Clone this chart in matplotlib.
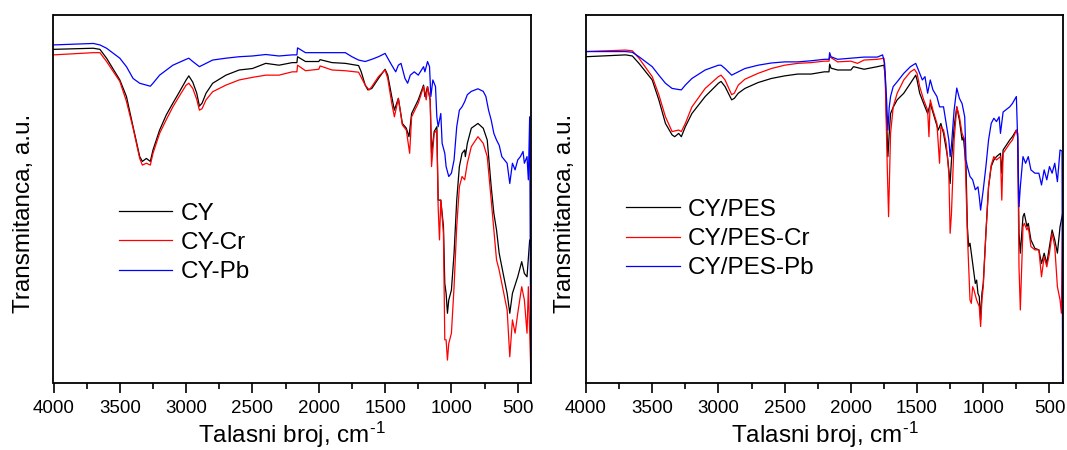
import matplotlib
matplotlib.use("Agg")
import matplotlib.pyplot as plt
from matplotlib.ticker import MultipleLocator, NullLocator

plt.rcParams['font.family'] = ['Liberation Sans', 'DejaVu Sans']
plt.rcParams['mathtext.fontset'] = 'custom'
plt.rcParams['mathtext.rm'] = 'Liberation Sans'
plt.rcParams['mathtext.it'] = 'Liberation Sans:italic'

# ---------------- Left panel: CY, CY-Cr, CY-Pb ----------------
cy_wn = [4000, 3700, 3650, 3600, 3500, 3450, 3400, 3350, 3330, 3300, 3270, 3250, 3200, 3150, 3100, 3050,
         3000, 2980, 2950, 2920, 2900, 2880, 2850, 2800, 2700, 2600, 2500, 2400, 2300, 2200, 2165, 2160,
         2100, 2000, 1990, 1900, 1800, 1700, 1680, 1650, 1630, 1600, 1550, 1500, 1480, 1450, 1430, 1400,
         1370, 1340, 1320, 1300, 1250, 1210, 1200, 1180, 1160, 1150, 1130, 1110, 1100, 1080, 1060, 1050,
         1040, 1030, 1020, 1000, 980, 960, 940, 920, 900, 895, 880, 850, 800, 760, 730, 700, 680, 660,
         640, 610, 580, 560, 540, 500, 470, 450, 430, 410, 401]
cy_t = [90.6, 90.9, 90.6, 88.2, 82.3, 77.8, 69.6, 61.5, 60.2, 61.0, 60.2, 63.3, 68.7, 72.8, 76.0, 79.1,
        82.3, 83.4, 81.7, 78.7, 75.2, 76.0, 78.7, 81.4, 83.6, 85.0, 85.4, 86.8, 86.3, 87.0, 87.0, 88.6,
        87.3, 87.3, 87.8, 87.0, 86.8, 86.2, 84.5, 80.9, 79.6, 80.0, 82.7, 85.2, 83.6, 77.8, 74.1, 77.3,
        70.5, 69.2, 66.9, 73.2, 76.9, 80.9, 77.8, 80.5, 76.9, 62.4, 68.3, 69.6, 49.7, 49.7, 42.5, 27.1,
        24.4, 19.0, 22.6, 25.3, 35.3, 49.7, 58.8, 62.4, 63.3, 61.5, 65.1, 69.2, 70.5, 69.2, 66.0, 53.3, 46.1, 41.6,
        35.3, 29.8, 24.4, 19.0, 24.4, 28.9, 33.0, 29.8, 28.9, 38.9, 38.0]

cycr_wn = [4000, 3700, 3650, 3600, 3500, 3450, 3400, 3350, 3330, 3300, 3270, 3250, 3200, 3150, 3100, 3050,
           3000, 2980, 2950, 2920, 2900, 2880, 2850, 2800, 2700, 2600, 2500, 2400, 2300, 2200, 2165, 2160,
           2100, 2000, 1990, 1900, 1800, 1700, 1680, 1650, 1620, 1600, 1550, 1500, 1480, 1450, 1430, 1400,
           1370, 1340, 1315, 1300, 1250, 1210, 1190, 1180, 1160, 1150, 1130, 1110, 1100, 1090, 1080, 1060,
           1050, 1040, 1030, 1020, 1000, 980, 960, 940, 920, 900, 880, 850, 800, 760, 730, 700, 680, 660,
           640, 610, 580, 560, 540, 520, 500, 470, 450, 430, 420, 401]
cycr_t = [89.1, 89.7, 89.7, 87.3, 81.9, 76.5, 69.2, 61.0, 59.2, 59.7, 59.2, 62.4, 67.8, 71.5, 75.0, 78.0,
          80.9, 81.4, 80.0, 77.0, 74.1, 74.5, 76.9, 79.1, 80.9, 82.3, 83.0, 83.6, 83.6, 84.5, 84.5, 86.3,
          84.8, 85.2, 86.1, 85.0, 84.8, 84.4, 83.0, 80.9, 79.6, 80.5, 83.2, 85.0, 82.7, 76.0, 72.3, 77.3,
          70.1, 68.7, 62.4, 72.3, 76.0, 80.5, 76.9, 80.5, 76.9, 58.8, 67.8, 68.7, 47.9, 38.9, 49.7, 40.7,
          11.8, 11.8, 6.3, 10.8, 13.6, 26.2, 42.5, 53.3, 56.1, 55.2, 59.7, 64.2, 66.9, 65.1, 61.5, 49.7, 41.6, 33.5,
          30.7, 25.3, 19.9, 7.2, 17.2, 13.6, 19.0, 26.2, 22.6, 13.6, 26.2, 2.7]

cypb_wn = [4000, 3700, 3650, 3600, 3500, 3450, 3400, 3350, 3300, 3270, 3250, 3200, 3100, 3000, 2980, 2950,
           2900, 2850, 2800, 2700, 2600, 2500, 2400, 2300, 2200, 2165, 2160, 2100, 2000, 1900, 1800, 1750,
           1700, 1650, 1600, 1550, 1500, 1480, 1450, 1420, 1400, 1380, 1350, 1330, 1310, 1280, 1250, 1210,
           1200, 1180, 1165, 1155, 1140, 1120, 1110, 1100, 1080, 1070, 1050, 1040, 1020, 1000, 980, 960,
           940, 920, 900, 880, 850, 800, 760, 740, 720, 700, 680, 660, 640, 620, 600, 580, 560, 540, 520,
           500, 480, 460, 450, 430, 420, 410, 401]
cypb_t = [91.8, 92.2, 91.8, 90.9, 88.2, 85.9, 82.7, 81.4, 80.9, 80.6, 81.4, 83.6, 86.3, 87.9, 88.2, 87.3,
          85.9, 86.8, 87.7, 88.2, 88.6, 88.8, 89.2, 88.8, 89.1, 89.1, 91.0, 89.7, 89.7, 89.7, 89.7, 88.6,
          87.7, 87.3, 87.9, 88.6, 89.5, 88.2, 86.3, 84.5, 86.3, 86.8, 82.7, 81.4, 83.6, 84.5, 83.6, 85.9,
          84.5, 87.3, 85.9, 77.8, 82.3, 80.5, 72.3, 69.6, 73.2, 65.1, 62.4, 58.8, 56.1, 57.0, 60.6, 69.6,
          74.1, 75.0, 76.4, 78.3, 79.2, 79.9, 79.2, 77.8, 74.1, 71.4, 67.8, 66.0, 64.6, 61.5, 60.6, 59.7, 54.2, 59.7, 57.9,
          60.6, 61.5, 62.9, 59.7, 61.5, 55.2, 72.3, 0.0]

# ---------------- Right panel: CY/PES, CY/PES-Cr, CY/PES-Pb ----------------
pes_wn = [4000, 3700, 3650, 3600, 3500, 3450, 3400, 3350, 3330, 3300, 3280, 3250, 3200, 3100, 3000, 2980,
          2950, 2900, 2880, 2850, 2800, 2700, 2600, 2500, 2400, 2300, 2200, 2165, 2160, 2150, 2100, 2000,
          1980, 1900, 1800, 1750, 1740, 1730, 1720, 1710, 1700, 1680, 1650, 1600, 1550, 1510, 1500, 1480,
          1450, 1420, 1400, 1370, 1340, 1320, 1300, 1270, 1250, 1240, 1220, 1200, 1180, 1160, 1150, 1130,
          1120, 1110, 1100, 1090, 1070, 1060, 1050, 1040, 1030, 1020, 1010, 1000, 980, 960, 940, 920, 900,
          870, 860, 850, 800, 780, 750, 740, 730, 720, 700, 690, 670, 660, 640, 610, 580, 560, 540, 520,
          500, 480, 460, 440, 420, 401]
pes_t = [88.6, 89.1, 88.8, 86.8, 82.3, 76.9, 70.5, 67.4, 66.9, 67.8, 66.9, 69.6, 73.2, 77.8, 81.4, 81.9,
         80.5, 76.9, 77.3, 78.7, 80.0, 81.6, 82.7, 83.4, 83.9, 83.9, 84.5, 84.5, 86.6, 85.5, 85.0, 85.0,
         85.9, 85.2, 85.9, 86.3, 83.2, 71.4, 61.5, 67.8, 73.2, 74.9, 76.9, 78.7, 81.4, 83.6, 82.3, 78.7,
         75.9, 73.2, 75.9, 72.3, 68.7, 70.5, 67.8, 61.5, 54.2, 60.6, 69.6, 75.0, 71.4, 66.0, 66.9, 58.8,
         42.5, 37.1, 38.0, 35.3, 29.8, 27.1, 28.0, 24.4, 23.5, 17.2, 24.4, 27.1, 40.7, 53.3, 58.8, 60.6, 61.5,
         62.4, 57.0, 63.3, 66.0, 66.9, 68.7, 67.8, 40.7, 35.3, 45.2, 46.1, 42.5, 43.4, 38.9, 36.6, 36.2, 32.5, 35.3, 32.5,
         37.1, 41.6, 38.9, 35.3, 42.5, 46.0]

pescr_wn = [4000, 3700, 3650, 3600, 3500, 3450, 3400, 3350, 3300, 3280, 3250, 3200, 3100, 3000, 2980, 2950,
            2900, 2880, 2850, 2800, 2700, 2600, 2500, 2400, 2300, 2200, 2165, 2160, 2100, 2000, 1950, 1900,
            1800, 1750, 1740, 1725, 1715, 1700, 1680, 1650, 1600, 1550, 1520, 1500, 1480, 1450, 1420, 1410,
            1400, 1380, 1350, 1330, 1320, 1300, 1280, 1260, 1250, 1240, 1220, 1200, 1180, 1160, 1140, 1130,
            1120, 1110, 1100, 1090, 1080, 1070, 1050, 1030, 1020, 1010, 1000, 980, 960, 940, 920, 900, 870,
            860, 850, 800, 780, 750, 740, 730, 720, 700, 690, 670, 660, 640, 610, 580, 560, 540, 520, 500,
            480, 460, 440, 420, 410, 401]
pescr_t = [90.0, 90.4, 90.2, 88.2, 83.2, 78.3, 72.3, 68.3, 68.7, 68.3, 70.5, 75.0, 80.0, 83.2, 83.6, 82.3,
           78.3, 78.7, 80.9, 82.5, 84.1, 85.4, 86.3, 86.8, 87.0, 87.4, 87.4, 88.6, 87.2, 87.4, 86.8, 87.7,
           87.9, 88.2, 82.3, 58.8, 45.2, 67.8, 75.0, 78.7, 82.3, 84.5, 85.2, 84.1, 80.5, 76.9, 74.1, 66.9,
           76.9, 74.1, 70.5, 59.7, 69.6, 68.7, 65.1, 57.0, 40.7, 46.1, 66.0, 75.0, 72.3, 67.8, 66.0, 53.3,
           40.7, 31.6, 22.6, 21.7, 26.2, 25.3, 22.6, 20.8, 15.4, 22.6, 26.2, 40.7, 53.3, 59.2, 61.5, 60.6, 61.5,
           49.7, 62.4, 65.1, 66.0, 68.7, 66.9, 31.6, 19.9, 42.5, 43.4, 41.6, 42.5, 37.1, 36.2, 36.2, 28.9, 34.4, 31.6, 35.3,
           40.7, 37.1, 26.2, 22.6, 19.0, 44.0]

pespb_wn = [4000, 3700, 3650, 3600, 3500, 3450, 3400, 3350, 3300, 3280, 3250, 3200, 3100, 3000, 2980, 2950,
            2900, 2850, 2800, 2700, 2600, 2500, 2400, 2300, 2200, 2165, 2160, 2150, 2100, 2000, 1900, 1800,
            1760, 1745, 1730, 1720, 1710, 1700, 1680, 1650, 1600, 1550, 1510, 1500, 1480, 1460, 1440, 1420,
            1400, 1380, 1350, 1330, 1300, 1280, 1260, 1250, 1240, 1220, 1200, 1180, 1160, 1140, 1130, 1120,
            1100, 1080, 1060, 1040, 1030, 1020, 1000, 980, 960, 940, 920, 900, 880, 870, 850, 800, 780, 750,
            740, 730, 720, 700, 680, 660, 640, 610, 580, 560, 540, 520, 500, 480, 460, 440, 420, 405, 401]
pespb_t = [90.0, 90.0, 89.8, 88.6, 85.9, 83.6, 81.4, 80.0, 79.7, 79.6, 80.9, 82.7, 85.0, 86.3, 86.3, 85.4,
           83.6, 84.5, 85.4, 86.3, 86.9, 87.2, 87.2, 87.5, 87.9, 87.9, 89.7, 88.6, 87.9, 88.2, 88.5, 88.5,
           89.1, 86.8, 76.9, 68.7, 74.9, 77.8, 80.5, 81.8, 84.1, 85.9, 86.8, 85.9, 84.1, 82.3, 83.2, 78.7,
           82.3, 79.6, 77.8, 75.0, 75.0, 70.5, 66.0, 61.5, 64.6, 74.1, 80.1, 77.3, 75.9, 72.3, 60.6, 58.8,
           56.1, 55.2, 52.5, 53.3, 50.6, 47.0, 52.5, 58.8, 66.0, 70.5, 71.9, 71.0, 72.3, 67.8, 73.6, 75.0, 75.9, 77.8,
           66.0, 47.9, 53.3, 61.5, 59.7, 61.5, 57.9, 57.0, 57.0, 53.8, 57.9, 55.2, 58.8, 57.0, 59.7, 54.7, 63.3, 63.0, 0.0]

left_series = [(cy_wn, cy_t, 'CY', 'black'),
               (cycr_wn, cycr_t, 'CY-Cr', '#ff0000'),
               (cypb_wn, cypb_t, 'CY-Pb', '#0000ff')]
right_series = [(pes_wn, pes_t, 'CY/PES', 'black'),
                (pescr_wn, pescr_t, 'CY/PES-Cr', '#ff0000'),
                (pespb_wn, pespb_t, 'CY/PES-Pb', '#0000ff')]

xticks = [4000, 3500, 3000, 2500, 2000, 1500, 1000, 500]
xlabel = 'Talasni broj, cm$^{\\mathregular{\u2010}1}$'
ylabel = 'Transmitanca, a.u.'

W, H = 1067, 450
fig = plt.figure(figsize=(W / 100, H / 100), dpi=100)

def px_axes(l, r, t, b):
    return fig.add_axes([l / W, 1 - b / H, (r - l) / W, (b - t) / H])

ax1 = px_axes(53.5, 531, 14.7, 383.3)
ax2 = px_axes(586, 1062.7, 14.7, 383.3)

for ax, series, leg_x, leg_y, ylab_x in [(ax1, left_series, 0.137, 0.381, -0.039),
                                          (ax2, right_series, 0.084, 0.391, -0.021)]:
    for wn, t, lab, col in series:
        ax.plot(wn, t, color=col, lw=0.9, label=lab)
    ax.set_xlim(4000, 400)
    ax.set_ylim(0, 100)
    ax.set_xticks(xticks)
    ax.xaxis.set_minor_locator(MultipleLocator(250))
    ax.yaxis.set_major_locator(NullLocator())
    ax.yaxis.set_minor_locator(NullLocator())
    ax.tick_params(axis='x', which='major', direction='out', length=7, width=1.2,
                   labelsize=13.5, pad=5, top=False)
    ax.tick_params(axis='x', which='minor', direction='out', length=4.5, width=1.2, top=False)
    for sp in ax.spines.values():
        sp.set_linewidth(1.3)
    ax.set_xlabel(xlabel, fontsize=17.5, labelpad=2)
    ax.set_ylabel(ylabel, fontsize=17.5)
    ax.yaxis.set_label_coords(ylab_x, 0.462)
    ax.legend(loc='center left', bbox_to_anchor=(leg_x, leg_y), frameon=False,
              fontsize=17.5, handlelength=2.2, handletextpad=0.35, labelspacing=0.3,
              borderpad=0, borderaxespad=0)

fig.savefig('out.png', dpi=100)
